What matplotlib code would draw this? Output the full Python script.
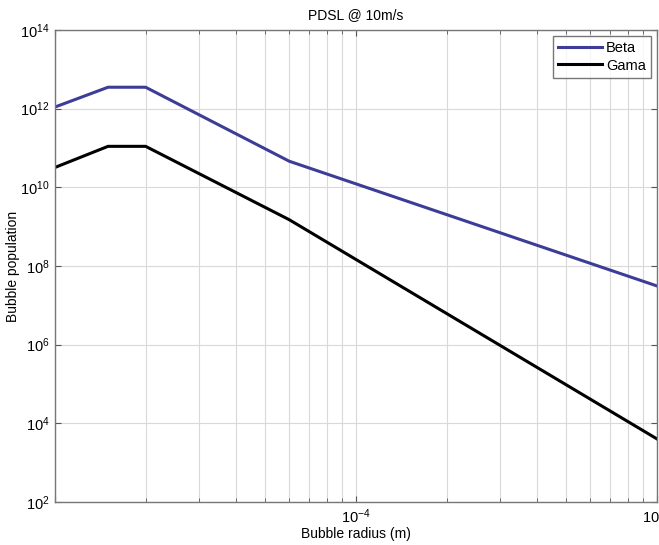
"""PDSL bubble population spectra at 10 m/s wind speed."""
import numpy as np
import matplotlib
matplotlib.use("Agg")
import matplotlib.pyplot as plt
from matplotlib.ticker import LogLocator, NullFormatter

# bubble radius (m) and population
beta_radius = [1.0e-5, 1.5e-5, 2.0e-5, 6.0e-5, 1.0e-3]
beta_population = [1.1e12, 3.5e12, 3.5e12, 4.6e10, 3.1e7]

gama_radius = [1.0e-5, 1.5e-5, 2.0e-5, 6.0e-5, 1.0e-3]
gama_population = [3.2e10, 1.1e11, 1.1e11, 1.5e9, 4.0e3]

x_ticks = [1e-5, 1e-4, 1e-3]
x_tick_labels = ["", r"$10^{-4}$", r"$10^{-3}$"]
y_ticks = [1e2, 1e4, 1e6, 1e8, 1e10, 1e12, 1e14]
y_tick_labels = [r"$10^{%d}$" % e for e in range(2, 15, 2)]


def plot_pdsl() -> None:
    plt.rcParams["font.family"] = ["Liberation Sans", "DejaVu Sans"]
    plt.rcParams["mathtext.fontset"] = "custom"
    plt.rcParams["mathtext.rm"] = "Liberation Sans"
    plt.rcParams["mathtext.it"] = "Liberation Sans"

    fig = plt.figure(figsize=(6.59, 5.45), dpi=100)
    ax = fig.add_axes([0.0835, 0.079, 0.9135, 0.866])

    ax.loglog(beta_radius, beta_population, color="#3d3d98", lw=2.2, label="Beta")
    ax.loglog(gama_radius, gama_population, color="black", lw=2.2, label="Gama")

    ax.set_xlim(1e-5, 1e-3)
    ax.set_ylim(1e2, 1e14)

    ax.set_xticks(x_ticks)
    ax.set_xticklabels(x_tick_labels)
    ax.xaxis.set_minor_locator(LogLocator(base=10, subs=np.arange(2, 10)))
    ax.xaxis.set_minor_formatter(NullFormatter())
    ax.set_yticks(y_ticks)
    ax.set_yticklabels(y_tick_labels)
    ax.yaxis.set_minor_locator(plt.NullLocator())

    ax.grid(True, which="major", color="#d9d9d9", lw=0.8)
    ax.grid(True, which="minor", axis="x", color="#d9d9d9", lw=0.8)
    ax.set_axisbelow(True)

    ax.tick_params(which="both", direction="in", top=True, right=True,
                   color="#555555", labelsize=10.5, pad=4)
    ax.tick_params(which="major", length=4)
    ax.tick_params(which="minor", length=3)
    for spine in ax.spines.values():
        spine.set_color("#777777")
        spine.set_linewidth(1.0)

    ax.set_title("PDSL @ 10m/s", fontsize=10, pad=8)
    ax.set_xlabel("Bubble radius (m)", fontsize=10, labelpad=1)
    ax.set_ylabel("Bubble population", fontsize=10, labelpad=0)

    leg = ax.legend(loc="upper right", fontsize=10.5, fancybox=False,
                    handlelength=3.0, borderpad=0.35, labelspacing=0.25,
                    handletextpad=0.3, borderaxespad=0.4)
    leg.get_frame().set_edgecolor("#555555")
    leg.get_frame().set_linewidth(1.0)

    fig.savefig("out.png", dpi=100)


if __name__ == "__main__":
    plot_pdsl()
